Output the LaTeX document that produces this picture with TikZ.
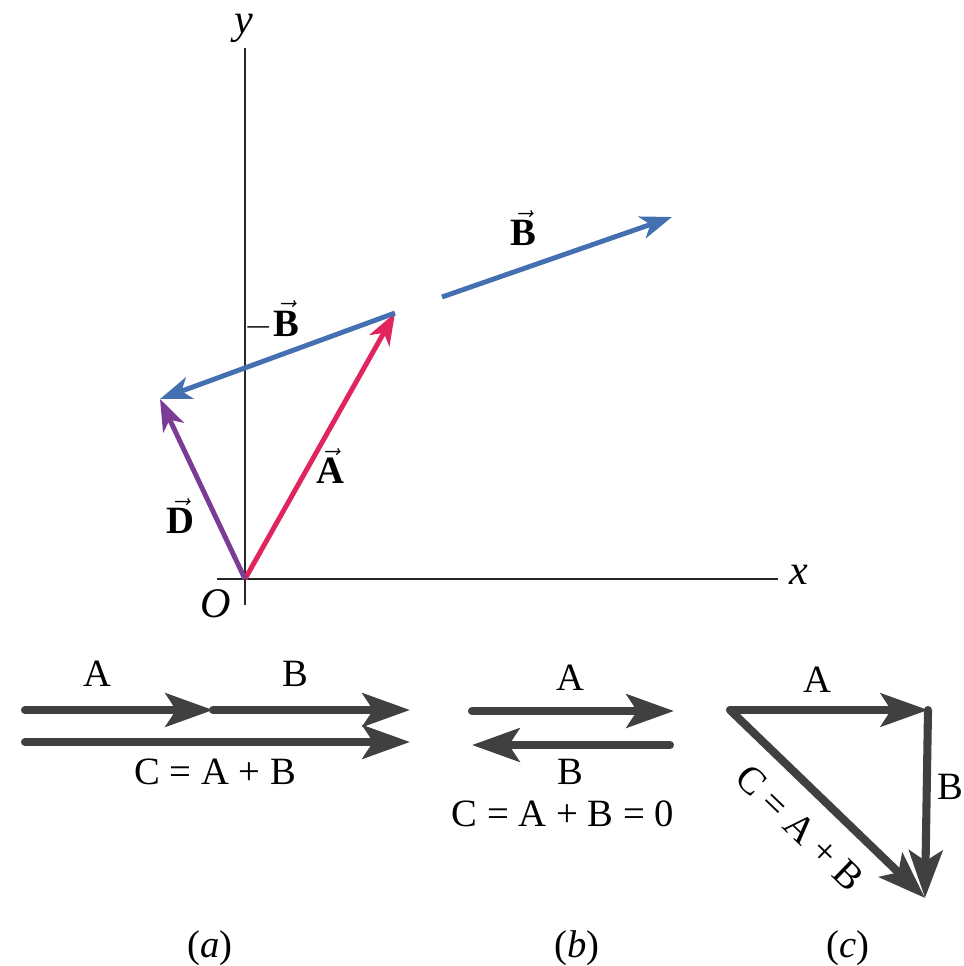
\documentclass[tikz,border=0pt]{standalone}
\usepackage{fontspec}
\setmainfont{Liberation Serif}
\usetikzlibrary{arrows.meta}
\definecolor{vecblue}{HTML}{4470B2}
\definecolor{vecred}{HTML}{E0245E}
\definecolor{vecpurple}{HTML}{7A3C94}
\definecolor{bargray}{HTML}{404040}
\tikzset{
  axis/.style={line width=1.2pt, black!85},
  vec/.style={line width=2.8pt, -{Stealth[length=18pt, width=13pt, inset=5pt]}},
  bar/.style={line width=4.6pt, bargray, line cap=round, -{Stealth[length=27pt, width=19pt, inset=6pt]}},
  veclbl/.style={font=\fontsize{22}{26}\selectfont\bfseries, inner sep=1pt},
  axlbl/.style={font=\fontsize{24}{28}\selectfont\itshape, inner sep=1pt},
}
\begin{document}
\begin{tikzpicture}[x=0.02cm, y=-0.02cm, font=\fontsize{22}{26}\selectfont]
  \useasboundingbox (0,0) rectangle (963,966);
  % --- Akser ---
  \coordinate (O)  at (245,579);
  \coordinate (xs) at (217,579);
  \coordinate (xe) at (778,579);
  \coordinate (ys) at (245,605);
  \coordinate (ye) at (245,48);
  \draw[axis] (xs) -- (xe);
  \draw[axis] (ys) -- (ye);
  \node[axlbl] (xlab) at (799,575) {x};
  \node[axlbl] (ylab) at (244,28) {y};
  \node[axlbl] (olab) at (216,604) {O};
  % --- Vektorer ---
  \coordinate (Atip) at (395,313);
  \coordinate (Dtip) at (160,399);
  \coordinate (Bs)   at (442,297);
  \coordinate (Be)   at (672,217);
  \draw[vec, vecred]    (O) -- (Atip);
  \draw[vec, vecblue]   (Atip) -- (Dtip);
  \draw[vec, vecpurple] (O) -- (Dtip);
  \draw[vec, vecblue]   (Bs) -- (Be);
  \node[veclbl] (blab)  at (523,228) {$\vec{\mathbf{B}}$};
  \node[veclbl] (mblab) at (272,320) {$-\vec{\mathbf{B}}$};
  \node[veclbl] (alab)  at (330,466) {$\vec{\mathbf{A}}$};
  \node[veclbl] (dlab)  at (180,516) {$\vec{\mathbf{D}}$};
  % --- (a) ---
  \coordinate (a1) at (25,710);
  \coordinate (a2) at (213,710);
  \coordinate (a3) at (410,710);
  \coordinate (c1) at (25,742);
  \coordinate (c2) at (410,742);
  \draw[bar] (a1) -- (a2);
  \draw[bar] (a2) -- (a3);
  \draw[bar] (c1) -- (c2);
  \node (aA) at (97,674) {A};
  \node (aB) at (295,674) {B};
  \node (aC) at (215,772) {C = A + B};
  % --- (b) ---
  \coordinate (b1) at (472,711);
  \coordinate (b2) at (674,711);
  \coordinate (b3) at (670,745);
  \coordinate (b4) at (472,745);
  \draw[bar] (b1) -- (b2);
  \draw[bar] (b3) -- (b4);
  \node (bA) at (570,678) {A};
  \node (bB) at (570,772) {B};
  \node (bC) at (563,814) {C = A + B = 0};
  % --- (c) ---
  \coordinate (k1) at (730,710);
  \coordinate (k2) at (928,710);
  \coordinate (k3) at (925,898);
  \draw[bar, line width=4pt] (k1) -- (k2);
  \draw[bar] (k2) -- (k3);
  \draw[bar] (k1) -- (k3);
  \node (cA) at (817,680) {A};
  \node (cB) at (950,787) {B};
  \node[rotate=-44] (cC) at (800,828) {C = A + B};
  % --- Undertekster ---
  \node (capa) at (210,948) {(\textit{a})};
  \node (capb) at (577,948) {(\textit{b})};
  \node (capc) at (848,948) {(\textit{c})};
\end{tikzpicture}
\end{document}
